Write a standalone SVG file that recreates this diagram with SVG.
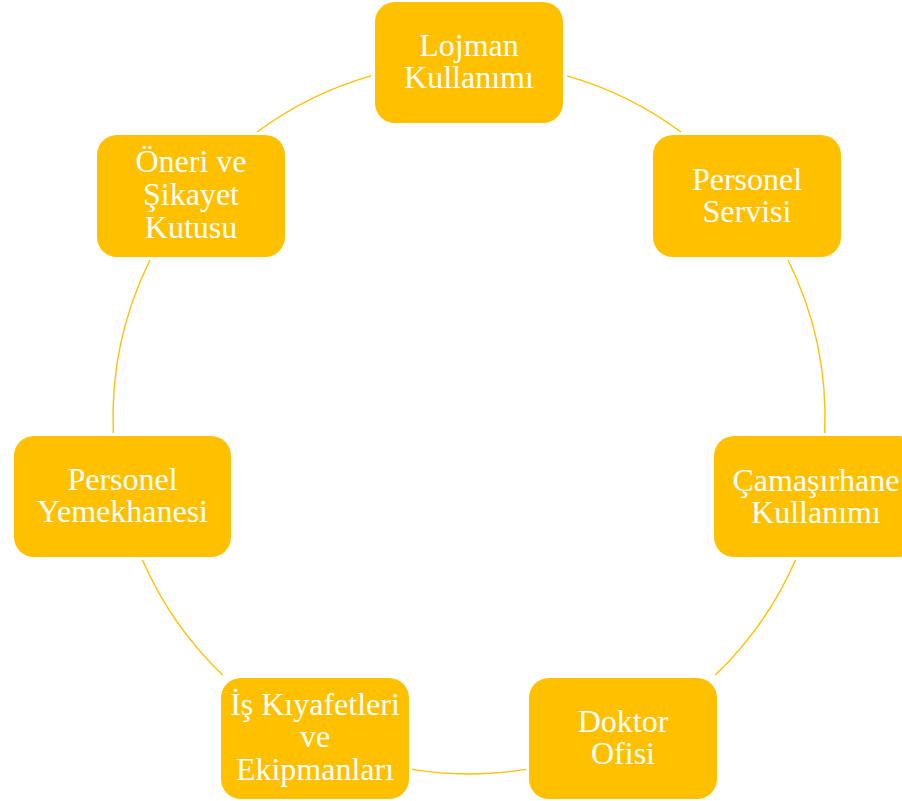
<svg xmlns="http://www.w3.org/2000/svg" width="902" height="801" viewBox="0 0 902 801">
<style>
.box{fill:#FFC000;}
.t{font-family:"Liberation Serif","Times New Roman",serif;font-size:32px;fill:#FFFFFF;text-anchor:middle;}
.arc{fill:none;stroke:#FFC000;stroke-width:1.4;}
</style>
<rect x="0" y="0" width="902" height="801" fill="#FFFFFF"/>
<g id="connectors">
<path class="arc" d="M567,75.8 A356,356 0 0 1 681,132"/>
<path class="arc" d="M788,260 A356,356 0 0 1 824.7,433"/>
<path class="arc" d="M795.5,560 A356,356 0 0 1 715.3,675"/>
<path class="arc" d="M526,769.4 A356,356 0 0 1 412,769.4"/>
<path class="arc" d="M222.7,675 A356,356 0 0 1 142.5,560"/>
<path class="arc" d="M113.3,433 A356,356 0 0 1 150,260"/>
<path class="arc" d="M257,132 A356,356 0 0 1 371,75.8"/>
</g>
<g id="lojman">
<rect class="box" x="375" y="2" width="188" height="121" rx="20"/>
<text class="t" x="469" y="56">Lojman</text>
<text class="t" x="469" y="88">Kullanımı</text>
</g>
<g id="servis">
<rect class="box" x="653" y="135" width="188" height="122" rx="20"/>
<text class="t" x="747" y="189.5">Personel</text>
<text class="t" x="747" y="221.5">Servisi</text>
</g>
<g id="camasirhane">
<rect class="box" x="714" y="436" width="204" height="121" rx="20"/>
<text class="t" x="816" y="491">Çamaşırhane</text>
<text class="t" x="816" y="523">Kullanımı</text>
</g>
<g id="doktor">
<rect class="box" x="529" y="678" width="188" height="121" rx="20"/>
<text class="t" x="623" y="732">Doktor</text>
<text class="t" x="623" y="764">Ofisi</text>
</g>
<g id="kiyafet">
<rect class="box" x="221" y="678" width="188" height="121" rx="20"/>
<text class="t" x="315" y="714.5">İş Kıyafetleri</text>
<text class="t" x="315" y="747">ve</text>
<text class="t" x="315" y="780">Ekipmanları</text>
</g>
<g id="yemekhane">
<rect class="box" x="14" y="436" width="217" height="121" rx="20"/>
<text class="t" x="122.5" y="490">Personel</text>
<text class="t" x="122.5" y="522">Yemekhanesi</text>
</g>
<g id="oneri">
<rect class="box" x="97" y="135" width="188" height="122" rx="20"/>
<text class="t" x="191" y="172">Öneri ve</text>
<text class="t" x="191" y="204.5">Şikayet</text>
<text class="t" x="191" y="237.5">Kutusu</text>
</g>
</svg>
